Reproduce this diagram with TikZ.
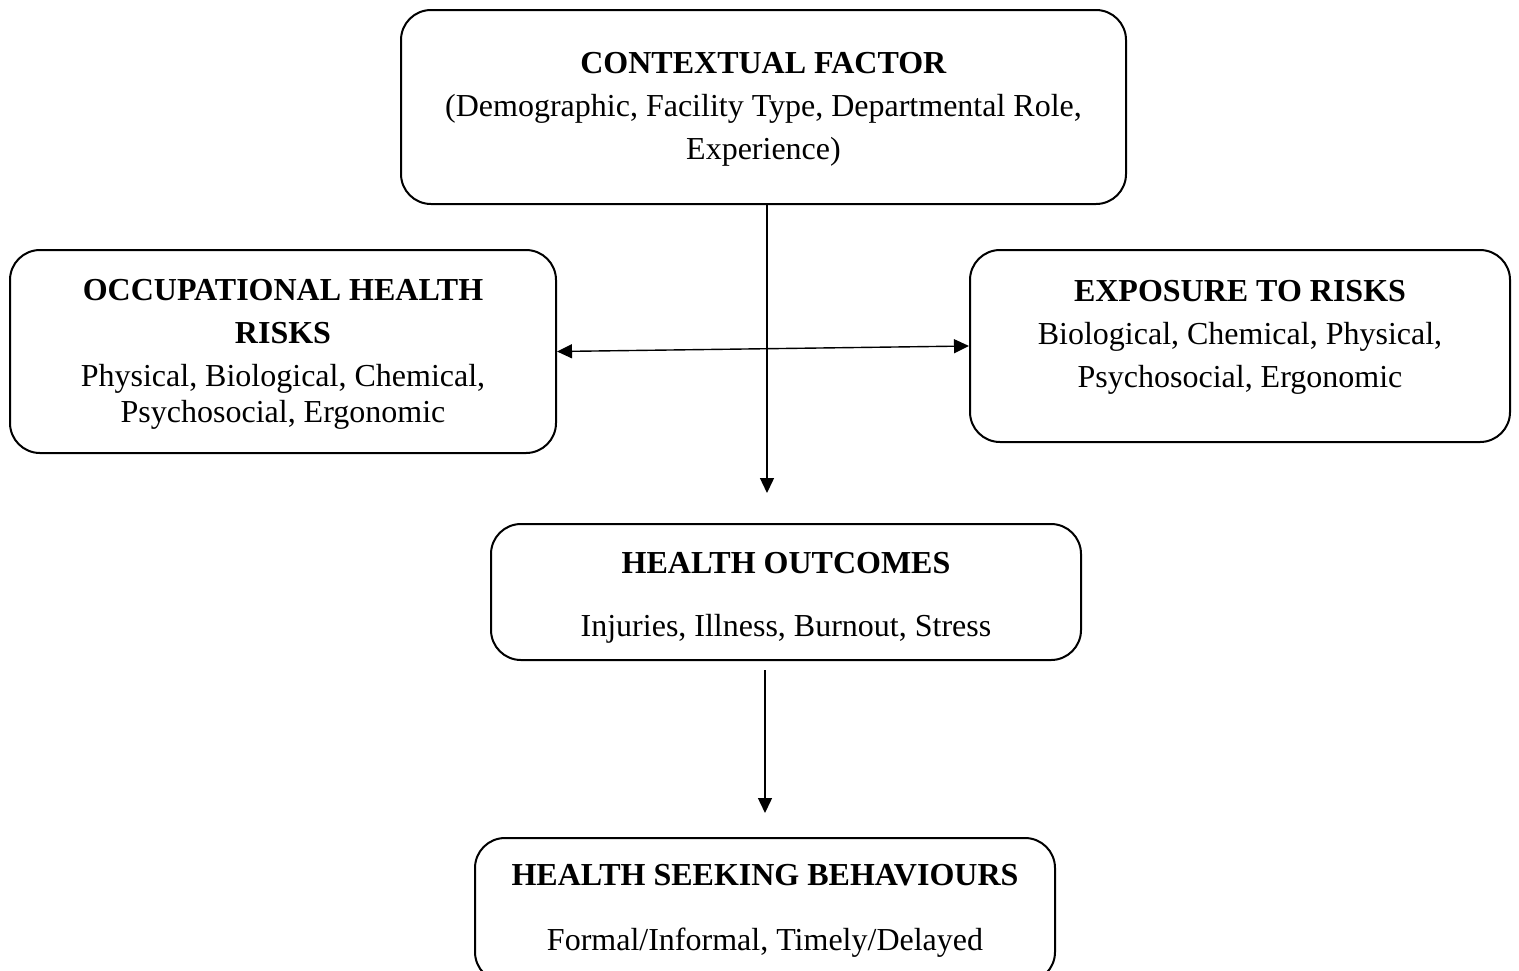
\documentclass[tikz,border=0pt]{standalone}
\usepackage{fontspec}
\setmainfont{Liberation Serif}
\usetikzlibrary{arrows.meta}
\begin{document}
\begin{tikzpicture}[x=0.5pt,y=-0.5pt,
  box/.style={draw, line width=1pt, rounded corners=15pt, inner sep=0pt},
  txt/.style={align=center, font=\fontsize{16}{21.5}\selectfont, inner sep=0pt},
  arr/.style={line width=0.7pt, -{Triangle[length=7.5pt,width=7pt]}},
  darr/.style={line width=0.7pt, {Triangle[length=7.5pt,width=7pt]}-{Triangle[length=7.5pt,width=7pt]}}]
\useasboundingbox (0,0) rectangle (1519,970);
\fill[white] (0,0) rectangle (1519,970);
% boxes
\node[box, minimum width=362.5pt, minimum height=97pt] (ctx) at (763.5,107) {};
\node[box, minimum width=273pt, minimum height=101.5pt] (occ) at (283,351.5) {};
\node[box, minimum width=270pt, minimum height=96pt] (exp) at (1240,346) {};
\node[box, minimum width=295pt, minimum height=68pt] (out) at (786,592) {};
\node[box, minimum width=290pt, minimum height=72pt] (seek) at (765,910) {};
% texts
\node[txt] (ctxt) at (763.5,109.5) {\textbf{CONTEXTUAL FACTOR}\\(Demographic, Facility Type, Departmental Role,\\Experience)};
\node[txt] (occt) at (283,354.5) {\textbf{OCCUPATIONAL HEALTH}\\\textbf{RISKS}\\Physical, Biological, Chemical,\\[-3.5pt]Psychosocial, Ergonomic};
\node[txt] (expt) at (1240,337.5) {\textbf{EXPOSURE TO RISKS}\\Biological, Chemical, Physical,\\Psychosocial, Ergonomic};
\node[txt] (outt) at (786,597.5) {\textbf{HEALTH OUTCOMES}\\[10pt]Injuries, Illness, Burnout, Stress};
\node[txt] (seekt) at (765,911) {\textbf{HEALTH SEEKING BEHAVIOURS}\\[11pt]Formal/Informal, Timely/Delayed};
% connectors
\draw[arr, shorten >=15pt] ([xshift=1.75pt]ctx.south) -- ([xshift=1.75pt]ctx.south |- out.north);
\draw[darr] (occ.east) -- (exp.west);
\draw[arr, shorten <=4.5pt, shorten >=12pt] ([xshift=-10.5pt]out.south) -- ([xshift=-10.5pt]out.south |- seek.north);
\end{tikzpicture}
\end{document}
